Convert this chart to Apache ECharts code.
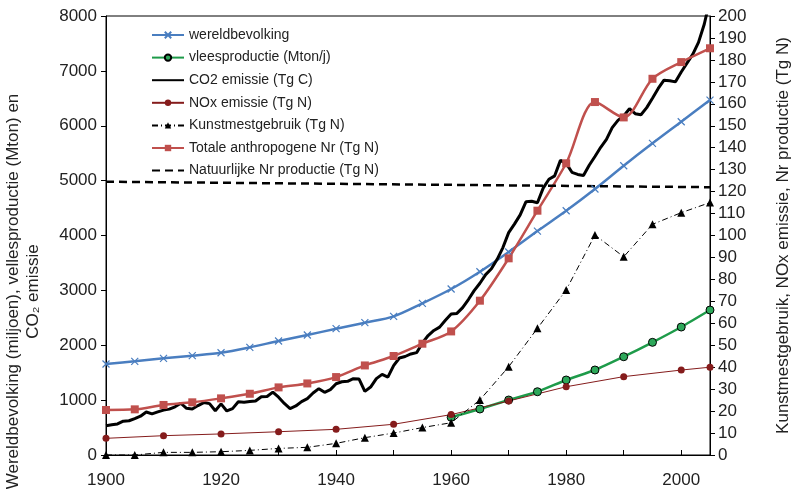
<!DOCTYPE html>
<html>
<head>
<meta charset="utf-8">
<script src="https://cdn.jsdelivr.net/npm/echarts@6/dist/echarts.min.js"></script>
<style>
html,body{margin:0;padding:0;background:#fff;}
#c{width:792px;height:489px;}
</style>
</head>
<body>
<div id="c"></div>
<script>
// ---- data ----
var years5 = [1900,1905,1910,1915,1920,1925,1930,1935,1940,1945,1950,1955,1960,1965,1970,1975,1980,1985,1990,1995,2000,2005];
var population = [1658,1707,1761,1810,1864,1962,2077,2186,2302,2411,2527,2764,3025,3340,3700,4081,4451,4847,5271,5679,6073,6468];
var totalNr = [20.5,20.8,22.8,24.0,25.8,27.9,30.8,32.6,35.5,40.8,45.1,50.7,56.3,70.3,89.6,111.3,132.9,160.8,153.8,171.4,179.0,185.3];
var fertilizer = [0,0,1.2,1.2,1.5,2.1,3.0,3.5,5.3,7.9,10.0,12.5,14.7,25.1,40.2,57.7,75.2,100.2,90.3,105.1,110.4,115.0];
var meatYears = [1960,1965,1970,1975,1980,1985,1990,1995,2000,2005];
var meat = [687,838,1002,1153,1367,1549,1791,2053,2332,2642];
var noxYears = [1900,1910,1920,1930,1940,1950,1960,1970,1980,1990,2000,2005];
var nox = [7.6,8.8,9.6,10.6,11.7,14.0,18.4,24.6,31.1,35.7,38.7,40.0];
var naturalYears = [1900,2005];
var naturalNr = [124.5,122.0];
var co2StartYear = 1900;
var co2 = [534,552,566,617,624,663,707,784,750,785,
           819,836,879,943,850,838,901,955,936,806,
           932,803,845,970,963,975,983,1062,1065,1145,
           1053,940,847,893,973,1027,1130,1209,1142,1192,
           1299,1334,1342,1391,1383,1160,1238,1392,1469,1419,
           1630,1767,1795,1841,1865,2042,2177,2270,2330,2454,
           2569,2580,2686,2833,2995,3130,3288,3393,3566,3780,
           4053,4208,4376,4614,4623,4596,4864,5026,5087,5369,
           5315,5152,5113,5094,5280,5439,5607,5752,5965,6097,
           6180,6310,6220,6200,6330,6500,6680,6830,6820,6800,
           6980,7140,7300,7520,7850,8300];
var xTickLabels = [1900,1920,1940,1960,1980,2000];
var names = {
  pop:'wereldbevolking', meat:'vleesproductie (Mton/j)', co2:'CO2 emissie (Tg C)',
  nox:'NOx emissie (Tg N)', fert:'Kunstmestgebruik (Tg N)', total:'Totale anthropogene Nr (Tg N)',
  nat:'Natuurlijke Nr productie (Tg N)'
};
var leftTitle = 'Wereldbevolking (miljoen), vellesproductie (Mton) en\nCO\u2082 emissie';
var rightTitle = 'Kunstmestgebruik, NOx emissie, Nr productie (Tg N)';

function pairs(xs, ys){ return xs.map(function(x,i){ return [x, ys[i]]; }); }
var co2Pairs = co2.map(function(v,i){ return [co2StartYear + i, v]; });

var FONT = '"Liberation Sans", Arial, sans-serif';
var chart = echarts.init(document.getElementById('c'), null, {renderer:'canvas'});
var option = {
  animation:false,
  backgroundColor:'#fff',
  textStyle:{fontFamily:FONT},
  grid:{left:106,right:82,top:16,bottom:34,outerBoundsMode:'none',containLabel:false,
        show:true,borderColor:'#000',borderWidth:1,backgroundColor:'transparent'},
  legend:{
    orient:'vertical', left:146, top:23, itemWidth:32, itemHeight:8, itemGap:8.6,
    textStyle:{fontFamily:FONT,fontSize:14,color:'#222',lineHeight:14},
    data:[
      {name:names.pop},
      {name:names.meat},
      {name:names.co2,itemStyle:{opacity:0}},
      {name:names.nox},
      {name:names.fert},
      {name:names.total},
      {name:names.nat,itemStyle:{opacity:0}}
    ]
  },
  xAxis:{
    type:'value', min:1900, max:2005, interval:10,
    axisLine:{show:true,lineStyle:{color:'#000',width:1}},
    axisTick:{show:true,inside:true,length:5,lineStyle:{color:'#000'}},
    splitLine:{show:false},
    axisLabel:{fontFamily:FONT,fontSize:17,color:'#222',margin:17,
      formatter:function(v){ return xTickLabels.indexOf(v) >= 0 ? String(v) : ''; }}
  },
  yAxis:[{
    type:'value', min:0, max:8000, interval:1000,
    axisLine:{show:true,lineStyle:{color:'#000',width:1}},
    axisTick:{show:true,inside:false,length:5,lineStyle:{color:'#000'}},
    splitLine:{show:false},
    axisLabel:{fontFamily:FONT,fontSize:17,color:'#222',margin:9,formatter:function(v){return String(v);}},
    name:leftTitle, nameLocation:'middle', nameRotate:90, nameGap:63,
    nameTextStyle:{fontFamily:FONT,fontSize:17,color:'#222',lineHeight:20,align:'center',padding:[0,112,0,0]}
  },{
    type:'value', min:0, max:200, interval:10, position:'right',
    axisLine:{show:true,lineStyle:{color:'#000',width:1}},
    axisTick:{show:true,inside:false,length:5,lineStyle:{color:'#000'}},
    splitLine:{show:false},
    axisLabel:{fontFamily:FONT,fontSize:17,color:'#222',margin:8,formatter:function(v){return String(v);}},
    name:rightTitle, nameLocation:'middle', nameRotate:90, nameGap:63,
    nameTextStyle:{fontFamily:FONT,fontSize:17,color:'#222',lineHeight:20}
  }],
  series:[
    {name:names.pop,type:'line',yAxisIndex:0,data:pairs(years5,population),smooth:0.3,
      symbol:'path://M0,0L10,10M10,0L0,10',symbolSize:7,showAllSymbol:true,
      lineStyle:{color:'#4A7EC0',width:2.5},
      itemStyle:{color:'#4A7EC0',borderColor:'#4A7EC0',borderWidth:1.2}},
    {name:names.meat,type:'line',yAxisIndex:0,data:pairs(meatYears,meat),smooth:0.2,
      symbol:'circle',symbolSize:8,
      lineStyle:{color:'#1E9B4A',width:2.5},
      itemStyle:{color:'#2DA85A',borderColor:'#000',borderWidth:1}},
    {name:names.co2,type:'line',yAxisIndex:0,data:co2Pairs,symbol:'none',
      lineStyle:{color:'#000',width:3},itemStyle:{color:'#000'}},
    {name:names.nox,type:'line',yAxisIndex:1,data:pairs(noxYears,nox),
      symbol:'circle',symbolSize:7,
      lineStyle:{color:'#851C1C',width:1},itemStyle:{color:'#851C1C'}},
    {name:names.fert,type:'line',yAxisIndex:1,data:pairs(years5,fertilizer),
      symbol:'triangle',symbolSize:8,
      lineStyle:{color:'#000',width:1,type:[6,3,1,3]},itemStyle:{color:'#000'}},
    {name:names.total,type:'line',yAxisIndex:1,data:pairs(years5,totalNr),smooth:0.3,
      symbol:'rect',symbolSize:8,
      lineStyle:{color:'#C0504D',width:2.5},itemStyle:{color:'#C0504D'}},
    {name:names.nat,type:'line',yAxisIndex:1,data:pairs(naturalYears,naturalNr),symbol:'none',
      lineStyle:{color:'#000',width:2.5,type:[8,5]},itemStyle:{color:'#000'}}
  ]
};
chart.setOption(option);
</script>
</body>
</html>
